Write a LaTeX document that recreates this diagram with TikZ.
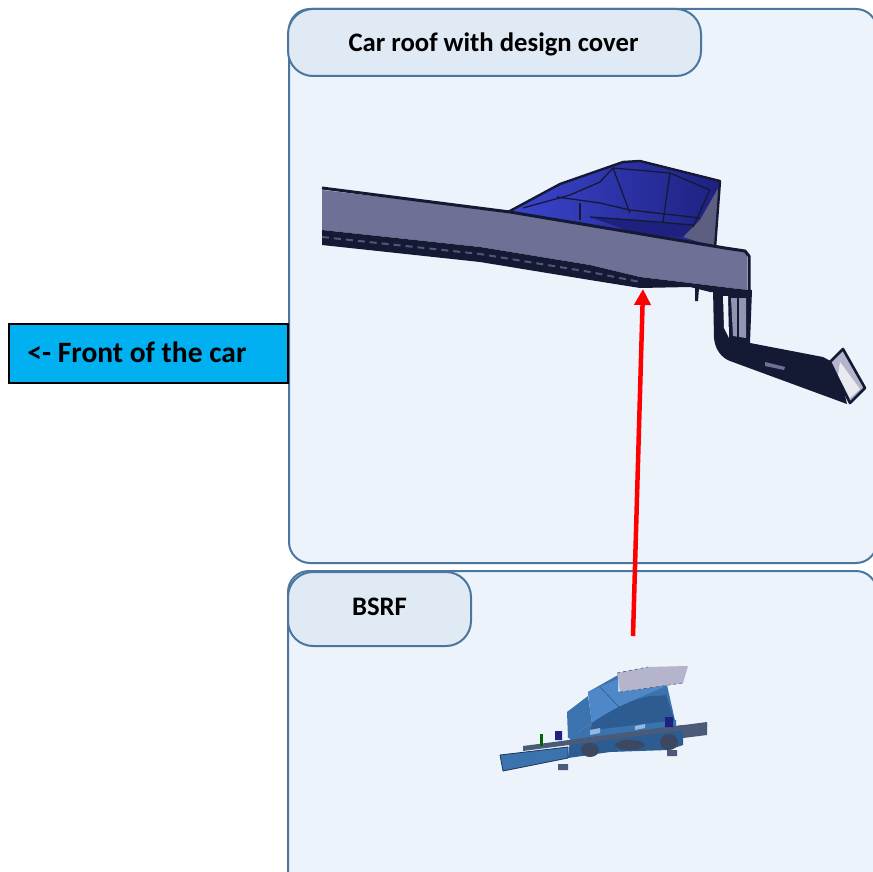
\documentclass[tikz,border=0pt]{standalone}
\usepackage{fontspec}
\setmainfont{Carlito}
\usetikzlibrary{arrows.meta}
\definecolor{panelfill}{HTML}{EDF3FA}
\definecolor{panelline}{HTML}{4A76A0}
\definecolor{tabfill}{HTML}{DFEAF4}
\definecolor{frontblue}{HTML}{00B0F0}
\definecolor{beamgrey}{HTML}{6E7096}
\definecolor{beamdark}{HTML}{141A33}
\definecolor{spoilerlt}{HTML}{3C46D0}
\definecolor{spoiler}{HTML}{2F35A8}
\definecolor{spoilerdk}{HTML}{1E2180}
\definecolor{partblue}{HTML}{3B73AE}
\definecolor{partlight}{HTML}{4E88C8}
\definecolor{partdark}{HTML}{2C5C92}
\definecolor{partcover}{HTML}{B4B4CC}
\definecolor{railgrey}{HTML}{4A5A78}
\tikzset{
  panel/.style={draw=panelline,fill=panelfill,line width=2pt,rounded corners=21pt},
  tabbox/.style={draw=panelline,fill=tabfill,line width=2pt,rounded corners=25pt},
  tablabel/.style={font=\bfseries\fontsize{26.7}{30}\selectfont,text=black,inner sep=0pt,anchor=center},
  frontlabelstyle/.style={font=\bfseries\fontsize{29.5}{33}\selectfont,text=black,inner sep=0pt,anchor=center},
  linedark/.style={draw=beamdark,line width=1.3pt,line join=round},
  redarrow/.style={draw=red,line width=4.5pt,-{Triangle[length=16pt,width=16pt]}}
}
\begin{document}
\begin{tikzpicture}[x=1pt,y=-1pt]
\useasboundingbox (0,0) rectangle (873,872);
\fill[white] (0,0) rectangle (873,872);
% panels
\begin{scope}
\clip (0,0) rectangle (873,872);
\draw[panel] (289,9) rectangle (877,563);
\draw[panel] (288,571) rectangle (877,892);
\end{scope}
\draw[tabbox] (288,9) rectangle (701,76);
\node[tablabel] (toplabel) at (493.5,44) {Car roof with design cover};
\draw[tabbox] (288,572) rectangle (471,646);
\node[tablabel] (bsrflabel) at (379.5,607) {BSRF};
% front box
\node[draw=black,fill=frontblue,line width=2pt,inner sep=0pt] (frontbox) at (148,353) {\rule{0pt}{59pt}\rule{279pt}{0pt}};
\node[frontlabelstyle] (frontlabel) at (137,352) {<- Front of the car};
% spoiler
\shade[left color=spoilerlt,right color=spoilerdk] (508,212) -- (560,184) -- (623,162) -- (640,161) -- (720,181) -- (712,245) -- (640,235) -- cycle;
\fill[beamgrey!85!black] (720,185) -- (715,247) -- (683,237) -- (700,220) -- cycle;
\fill[spoilerdk] (590,217) -- (633,220) -- (693,225) -- (683,237) -- (640,235) -- cycle;
\draw[linedark,line width=2.4pt] (508,212) -- (560,184) -- (623,162) -- (640,161) -- (720,181) -- (715,248);
\draw[linedark] (613,168) -- (630,213);
\draw[linedark] (670,173) -- (663,222);
\draw[linedark] (710,190) -- (693,227);
\draw[linedark] (613,168) -- (670,173) -- (710,190);
\draw[linedark] (523,208) -- (570,195) -- (600,182) -- (613,168);
\draw[linedark] (557,197) -- (600,203) -- (630,210) -- (700,218);
\draw[linedark] (590,217) -- (633,220) -- (693,225);
\draw[linedark] (580,203) -- (580,220);
% bracket
\fill[beamdark] (713,288) -- (714,338) .. controls (715,350) and (722,358) .. (730,361) -- (847,404) -- (838,365) -- (823,357) -- (750,343) -- (752,290) -- cycle;
\fill[panelfill] (723,296) -- (728,296) -- (729,338) -- (724,328) -- cycle;
\fill[beamgrey!75!white] (731,298) -- (746,298) -- (746,338) -- (733,336) -- cycle;
\draw[beamdark,line width=1.5pt] (738,296) -- (738,340);
\fill[beamgrey] (765,362) -- (785,367) -- (784,370) -- (765,366) -- cycle;
\fill[partcover,draw=beamdark,line width=2.6pt,line join=round] (843,349) -- (865,388) -- (850,403) -- (830,362) -- cycle;
\fill[white!70!partcover] (840,362) -- (860,389) -- (850,398) -- (838,375) -- cycle;
\fill[beamdark] (695,288) -- (699,288) -- (698,301) -- (695,301) -- cycle;
% beam
\fill[beamgrey] (322,190) -- (510,212) -- (747,252) -- (747,290) -- (690,283) -- (640,277) -- (590,265) -- (480,247) -- (322,230) -- cycle;
\fill[beamdark] (322,230) -- (480,247) -- (590,265) -- (640,277) -- (690,283) -- (747,290) -- (747,293) -- (710,292) -- (690,287) -- (640,288) -- (590,280) -- (480,262) -- (322,245) -- cycle;
\draw[beamgrey!70!beamdark,line width=2pt,dash pattern=on 7pt off 5pt] (322,237) -- (480,254) -- (590,272) -- (640,282);
\draw[beamdark,line width=3pt,line join=round] (322,188) -- (510,212) -- (725,248) -- (745,251) -- (749,256) -- (749,292);
% small part
\fill[partblue] (567,712) -- (588,696) -- (592,723) -- (568,738) -- cycle;
\fill[partblue] (588,692) -- (618,675) -- (618,692) -- (667,685) -- (676,725) -- (590,745) -- (568,738) -- (592,723) -- cycle;
\fill[partlight] (588,692) -- (618,679) -- (618,692) -- (667,685) .. controls (650,695) and (625,700) .. (592,723) -- cycle;
\fill[partdark] (592,723) .. controls (625,700) and (650,695) .. (656,696) -- (666,695) -- (676,725) -- (590,735) -- cycle;
\draw[partdark,line width=.6pt] (600,687) -- (621,709);
\fill[partcover] (617,673) -- (648,667) -- (688,666) -- (683,683) -- (620,692) -- cycle;
\draw[railgrey,line width=.6pt,dashed] (617,673) -- (648,667) (620,692) -- (683,683);
\fill[partblue] (570,733) -- (676,720) -- (676,728) -- (570,742) -- cycle;
\fill[partlight!60!white] (590,730) -- (600,728) -- (600,733) -- (590,735) -- cycle;
\fill[partlight!60!white] (635,726) -- (645,724) -- (645,728) -- (635,730) -- cycle;
\fill[partdark] (570,740) -- (683,725) -- (683,745) -- (668,750) -- (610,752) -- (568,758) -- cycle;
\fill[partblue,draw=partdark!60!black,line width=.8pt] (500,755) -- (568,747) -- (568,758) -- (503,771) -- cycle;
\fill[railgrey] (523,746) -- (707,722) -- (707,727) -- (523,751) -- cycle;
\fill[railgrey] (683,727) -- (707,724) -- (707,735) -- (683,738) -- cycle;
\fill[railgrey!80!black] (590,750) ellipse (9pt and 7pt) (630,745) ellipse (15pt and 5pt) (669,742) ellipse (9pt and 8pt);
\fill[spoilerdk] (555,731) rectangle (562,740) (665,717) rectangle (673,727);
\fill[green!40!black] (540,734) rectangle (543,746);
\fill[railgrey] (558,764) rectangle (568,770) (667,750) rectangle (677,756);
% arrow
\coordinate (arrowstart) at (633,636);
\coordinate (arrowend) at (643,289);
\draw[redarrow] (arrowstart) -- (arrowend);
\end{tikzpicture}
\end{document}
